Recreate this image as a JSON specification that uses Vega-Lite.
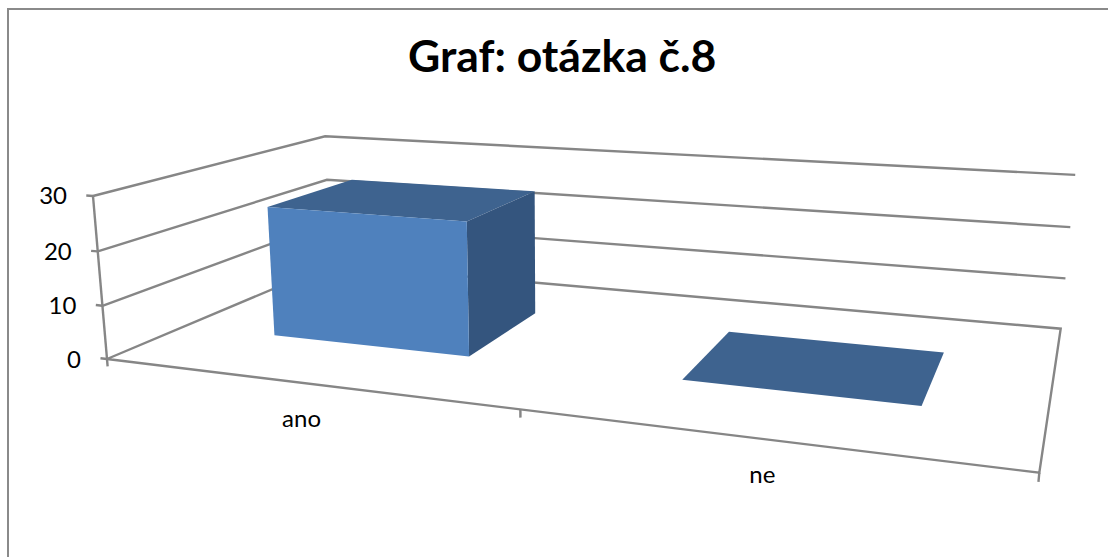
{
"$schema":"https://vega.github.io/schema/vega-lite/v6.json",
"autosize":{"type":"none"},
"padding":{"left":8,"top":9,"right":0,"bottom":0},
"width":1110,
"height":560,
"background":"white",
"view":{"stroke":"#8a8a8a","strokeWidth":2,"fill":"white"},
"title":{"text":"Graf: otázka č.8","font":"Lato","fontWeight":"bold","fontSize":44.5,"color":"#000000","anchor":"start","frame":"group","dx":400,"offset":-72},
"datasets":{"parts":[
{"part":"grid30","seq":1,"cat":0,"depth":0,"value":30},{"part":"grid30","seq":2,"cat":0,"depth":1,"value":30},{"part":"grid30","seq":3,"cat":2,"depth":1,"value":30},
{"part":"grid20","seq":1,"cat":0,"depth":0,"value":20},{"part":"grid20","seq":2,"cat":0,"depth":1,"value":20},{"part":"grid20","seq":3,"cat":2,"depth":1,"value":20},
{"part":"grid10","seq":1,"cat":0,"depth":0,"value":10},{"part":"grid10","seq":2,"cat":0,"depth":1,"value":10},{"part":"grid10","seq":3,"cat":2,"depth":1,"value":10},
{"part":"floor","seq":1,"cat":0,"depth":0,"value":0},{"part":"floor","seq":2,"cat":0,"depth":1,"value":0},{"part":"floor","seq":3,"cat":2,"depth":1,"value":0},{"part":"floor","seq":4,"cat":2,"depth":0,"value":0},{"part":"floor","seq":5,"cat":0,"depth":0,"value":0},
{"part":"axis","seq":1,"cat":0,"depth":0,"value":0},{"part":"axis","seq":2,"cat":0,"depth":0,"value":30},
{"part":"t30","seq":1,"cat":-0.018,"depth":0,"value":30},{"part":"t30","seq":2,"cat":0,"depth":0,"value":30},
{"part":"t20","seq":1,"cat":-0.018,"depth":0,"value":20},{"part":"t20","seq":2,"cat":0,"depth":0,"value":20},
{"part":"t10","seq":1,"cat":-0.018,"depth":0,"value":10},{"part":"t10","seq":2,"cat":0,"depth":0,"value":10},
{"part":"t0","seq":1,"cat":-0.018,"depth":0,"value":0},{"part":"t0","seq":2,"cat":0,"depth":0,"value":0},
{"part":"c0","seq":1,"cat":0,"depth":0,"value":0},{"part":"c0","seq":2,"cat":0,"depth":0,"value":-1.4},
{"part":"c1","seq":1,"cat":1.01,"depth":0,"value":0},{"part":"c1","seq":2,"cat":1.01,"depth":0,"value":-1.4},
{"part":"c2","seq":1,"cat":2,"depth":0,"value":0},{"part":"c2","seq":2,"cat":2,"depth":0,"value":-1.4}
],
"faces":[
{"face":"ano-top","tone":"top","seq":1,"cat":0.25,"depth":0.3,"value":25},{"face":"ano-top","tone":"top","seq":2,"cat":0.76,"depth":0.3,"value":25},{"face":"ano-top","tone":"top","seq":3,"cat":0.76,"depth":0.7,"value":25},{"face":"ano-top","tone":"top","seq":4,"cat":0.25,"depth":0.7,"value":25},
{"face":"ano-side","tone":"side","seq":1,"cat":0.76,"depth":0.3,"value":25},{"face":"ano-side","tone":"side","seq":2,"cat":0.76,"depth":0.7,"value":25},{"face":"ano-side","tone":"side","seq":3,"cat":0.76,"depth":0.7,"value":0},{"face":"ano-side","tone":"side","seq":4,"cat":0.76,"depth":0.3,"value":0},
{"face":"ano-front","tone":"front","seq":1,"cat":0.25,"depth":0.3,"value":25},{"face":"ano-front","tone":"front","seq":2,"cat":0.76,"depth":0.3,"value":25},{"face":"ano-front","tone":"front","seq":3,"cat":0.76,"depth":0.3,"value":0},{"face":"ano-front","tone":"front","seq":4,"cat":0.25,"depth":0.3,"value":0},
{"face":"ne-top","tone":"top","seq":1,"cat":1.26,"depth":0.3,"value":0},{"face":"ne-top","tone":"top","seq":2,"cat":1.76,"depth":0.3,"value":0},{"face":"ne-top","tone":"top","seq":3,"cat":1.76,"depth":0.7,"value":0},{"face":"ne-top","tone":"top","seq":4,"cat":1.26,"depth":0.7,"value":0}
],
"labels":[
{"label":"30","cat":0,"depth":0,"value":30,"kind":"value"},
{"label":"20","cat":0,"depth":0,"value":20,"kind":"value"},
{"label":"10","cat":0,"depth":0,"value":10,"kind":"value"},
{"label":"0","cat":0,"depth":0,"value":0,"kind":"value"},
{"label":"ano","cat":0.5,"depth":0,"value":0,"kind":"category"},
{"label":"ne","cat":1.5,"depth":0,"value":0,"kind":"category"}
]},
"layer":[
{"data":{"name":"parts"},
"transform":[
{"calculate":"1-0.2192*datum.cat/2+0.2834*datum.depth-0.03*datum.value/30","as":"w"},
{"calculate":"(704.5*datum.cat/2+317.3*datum.depth-16.8*datum.value/30+107)/datum.w","as":"px"},
{"calculate":"(10.1*datum.cat/2-19.3*datum.depth-168.9*datum.value/30+359)/datum.w","as":"py"}],
"mark":{"type":"line","stroke":"#868686","strokeWidth":2.4,"clip":false},
"encoding":{
"x":{"field":"px","type":"quantitative","scale":{"domain":[8,1118],"nice":false,"zero":false},"axis":null},
"y":{"field":"py","type":"quantitative","scale":{"domain":[569,9],"nice":false,"zero":false},"axis":null},
"detail":{"field":"part"},
"order":{"field":"seq"}}},
{"data":{"name":"faces"},
"transform":[
{"calculate":"1-0.2192*datum.cat/2+0.2834*datum.depth-0.03*datum.value/30","as":"w"},
{"calculate":"(704.5*datum.cat/2+317.3*datum.depth-16.8*datum.value/30+107)/datum.w","as":"px"},
{"calculate":"(10.1*datum.cat/2-19.3*datum.depth-168.9*datum.value/30+359)/datum.w","as":"py"}],
"mark":{"type":"line","strokeWidth":0,"fill":"#4f81bd"},
"encoding":{
"x":{"field":"px","type":"quantitative","scale":{"domain":[8,1118],"nice":false,"zero":false},"axis":null},
"y":{"field":"py","type":"quantitative","scale":{"domain":[569,9],"nice":false,"zero":false},"axis":null},
"fill":{"field":"tone","type":"nominal","scale":{"domain":["front","side","top"],"range":["#4f81bd","#34557e","#3e638f"]},"legend":null},
"detail":{"field":"face"},
"order":{"field":"seq"}}},
{"data":{"name":"labels"},
"transform":[
{"filter":"datum.kind=='value'"},
{"calculate":"1-0.2192*datum.cat/2+0.2834*datum.depth-0.03*datum.value/30","as":"w"},
{"calculate":"(704.5*datum.cat/2+317.3*datum.depth-16.8*datum.value/30+107)/datum.w","as":"px"},
{"calculate":"(10.1*datum.cat/2-19.3*datum.depth-168.9*datum.value/30+359)/datum.w","as":"py"}],
"mark":{"type":"text","font":"Lato","fontSize":24,"align":"right","baseline":"middle","dx":-26,"dy":1.5,"color":"#000000"},
"encoding":{
"x":{"field":"px","type":"quantitative","scale":{"domain":[8,1118],"nice":false,"zero":false},"axis":null},
"y":{"field":"py","type":"quantitative","scale":{"domain":[569,9],"nice":false,"zero":false},"axis":null},
"text":{"field":"label"}}},
{"data":{"name":"labels"},
"transform":[
{"filter":"datum.kind=='category'"},
{"calculate":"1-0.2192*datum.cat/2+0.2834*datum.depth-0.03*datum.value/30","as":"w"},
{"calculate":"(704.5*datum.cat/2+317.3*datum.depth-16.8*datum.value/30+107)/datum.w","as":"px"},
{"calculate":"(10.1*datum.cat/2-19.3*datum.depth-168.9*datum.value/30+359)/datum.w","as":"py"}],
"mark":{"type":"text","font":"Lato","fontSize":24,"align":"center","baseline":"middle","dx":2,"dy":37.5,"color":"#000000"},
"encoding":{
"x":{"field":"px","type":"quantitative","scale":{"domain":[8,1118],"nice":false,"zero":false},"axis":null},
"y":{"field":"py","type":"quantitative","scale":{"domain":[569,9],"nice":false,"zero":false},"axis":null},
"text":{"field":"label"}}}
]
}
